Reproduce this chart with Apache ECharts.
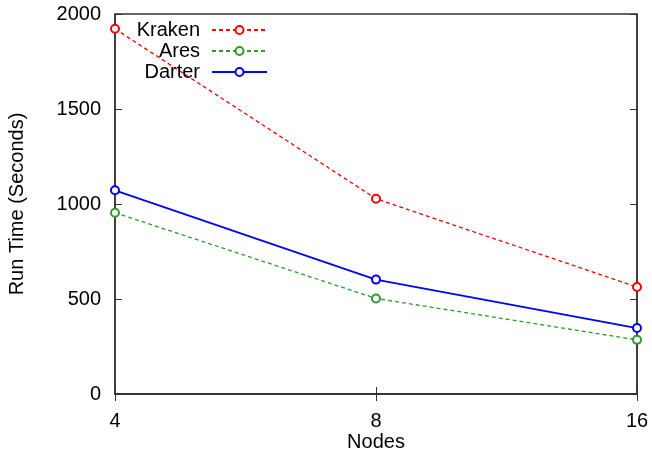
<!DOCTYPE html>
<html><head><meta charset="utf-8">
<script src="https://cdn.jsdelivr.net/npm/echarts@6/dist/echarts.min.js"></script>
<style>html,body{margin:0;padding:0;background:#fff}#c{width:652px;height:459px}</style>
</head><body><div id="c"></div>
<script>
const categories = ['4', '8', '16'];
const kraken = [1922, 1028, 563];
const ares = [954, 503, 285];
const darter = [1072, 602, 347];
const yTicks = [0, 500, 1000, 1500, 2000];

const font = 'Liberation Sans, Arial, sans-serif';
const axisColor = '#333';
const chart = echarts.init(document.getElementById('c'), null, {renderer: 'canvas'});

function mkSeries(name, data, color, type, width) {
  return {
    name, type: 'line', data, symbol: 'emptyCircle', symbolSize: 8,
    itemStyle: {color, borderWidth: 1.5},
    lineStyle: {color, type, width},
    animation: false
  };
}
function mkLegend(name, top) {
  return {
    data: [name], right: 384, top, align: 'right', orient: 'vertical',
    itemWidth: 55, itemHeight: 10, itemGap: 0, padding: 0,
    textStyle: {fontFamily: font, fontSize: 20, color: '#000', padding: [0, 7, 0, 0]}
  };
}

chart.setOption({
  backgroundColor: '#fff',
  animation: false,
  grid: {left: 115, right: 15, top: 14, bottom: 65, containLabel: false,
         outerBoundsMode: 'none',
         show: true, borderColor: axisColor, borderWidth: 1.5},
  legend: [mkLegend('Kraken', 20), mkLegend('Ares', 41), mkLegend('Darter', 62)],
  xAxis: [{
    type: 'category', data: categories, boundaryGap: false,
    name: 'Nodes', nameLocation: 'middle', nameGap: 38, nameMoveOverlap: false,
    nameTextStyle: {fontFamily: font, fontSize: 20, color: '#000'},
    axisLine: {show: true, lineStyle: {color: axisColor, width: 1.5}},
    axisTick: {show: true, inside: true, length: 7, lineStyle: {color: axisColor}},
    axisLabel: {fontFamily: font, fontSize: 20, color: '#000', margin: 17},
    splitLine: {show: false}
  }, {
    type: 'category', data: categories, boundaryGap: false, position: 'top',
    axisLine: {show: true, lineStyle: {color: axisColor, width: 1.5}},
    axisTick: {show: true, inside: true, length: 7, lineStyle: {color: axisColor}},
    axisLabel: {show: false}, splitLine: {show: false}
  }],
  yAxis: [{
    type: 'value', min: yTicks[0], max: yTicks[yTicks.length - 1], interval: 500,
    name: 'Run Time (Seconds)', nameLocation: 'middle', nameGap: 88, nameRotate: 90,
    nameTextStyle: {fontFamily: font, fontSize: 20, color: '#000'},
    axisLine: {show: true, lineStyle: {color: axisColor, width: 1.5}},
    axisTick: {show: true, inside: true, length: 7, lineStyle: {color: axisColor}},
    axisLabel: {fontFamily: font, fontSize: 20, color: '#000', margin: 14,
                formatter: v => String(v)},
    splitLine: {show: false}
  }, {
    type: 'value', min: yTicks[0], max: yTicks[yTicks.length - 1], interval: 500, position: 'right',
    axisLine: {show: true, lineStyle: {color: axisColor, width: 1.5}},
    axisTick: {show: true, inside: true, length: 7, lineStyle: {color: axisColor}},
    axisLabel: {show: false}, splitLine: {show: false}
  }],
  series: [
    mkSeries('Kraken', kraken, '#ff0000', [4, 3], 1.3),
    mkSeries('Ares', ares, '#2e9a2e', [4, 3], 1.3),
    mkSeries('Darter', darter, '#0000ff', 'solid', 1.8)
  ]
});
</script></body></html>
